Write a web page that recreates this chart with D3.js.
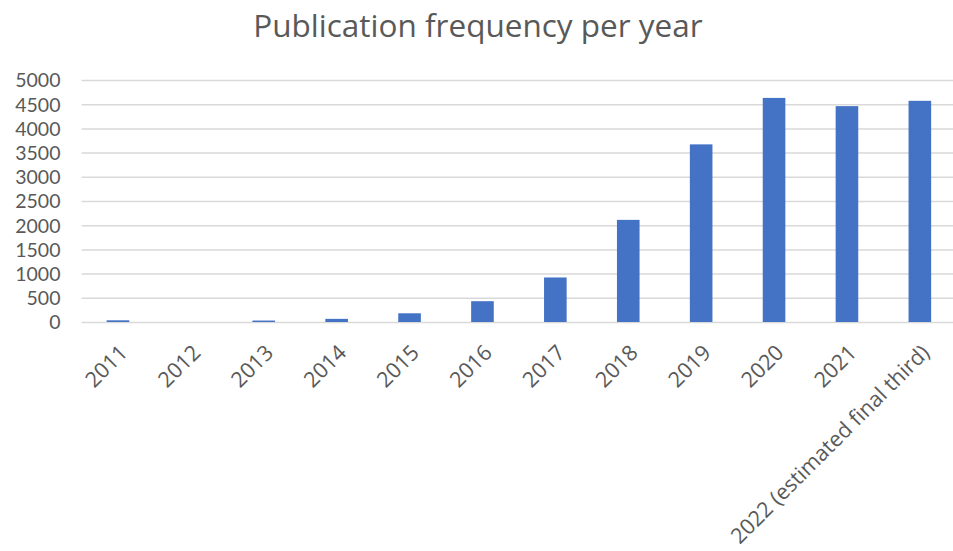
<!DOCTYPE html>
<html>
<head>
<meta charset="utf-8">
<script src="https://cdn.jsdelivr.net/npm/d3@7"></script>
<style>
  html, body { margin: 0; padding: 0; background: #fff; }
  svg { display: block; }
  text { font-family: "Open Sans", "Noto Sans", sans-serif; fill: #595959; }
</style>
</head>
<body>
<svg id="chart" width="953" height="551"></svg>
<script>
// Publication counts per year
const years = ["2011", "2012", "2013", "2014", "2015", "2016", "2017", "2018", "2019", "2020", "2021", "2022 (estimated final third)"];
const counts = [35, 0, 30, 65, 180, 430, 920, 2110, 3670, 4630, 4460, 4570];
const yTicks = [0, 500, 1000, 1500, 2000, 2500, 3000, 3500, 4000, 4500, 5000];
const title = "Publication frequency per year";

const svg = d3.select("#chart");
const W = 953, H = 551;
const plot = { left: 81.5, right: 956.3, top: 80, bottom: 322 };

const x = d3.scaleBand().domain(years).range([plot.left, plot.right]).paddingInner(0.69).paddingOuter(0.345);
const y = d3.scaleLinear().domain([0, 5000]).range([plot.bottom, plot.top]);

// Title
svg.append("text")
  .attr("x", 478).attr("y", 37)
  .attr("text-anchor", "middle")
  .style("font-size", "31.5px")
  .text(title);

// Horizontal gridlines and value labels
const yAxis = d3.axisLeft(y).tickValues(yTicks).tickFormat(d3.format("d"))
  .tickSize(-(W - plot.left)).tickPadding(21);
const gy = svg.append("g").attr("transform", `translate(${plot.left},0)`).call(yAxis);
gy.select(".domain").remove();
gy.selectAll(".tick line").attr("stroke", "#d9d9d9").attr("stroke-width", 1.5);
gy.selectAll(".tick text")
  .attr("fill", "#595959")
  .style("font-family", "Lato, sans-serif")
  .style("font-size", "19.5px")
  .attr("dy", "0.35em");

// Bars
svg.append("g").selectAll("rect")
  .data(counts.map((v, i) => ({ year: years[i], value: v })))
  .join("rect")
  .attr("x", d => x(d.year))
  .attr("width", x.bandwidth())
  .attr("y", d => y(d.value))
  .attr("height", d => y(0) - y(d.value))
  .attr("fill", "#4472c4");

// Category labels, rotated
const gx = svg.append("g").attr("transform", `translate(0,${plot.bottom})`)
  .call(d3.axisBottom(x).tickSize(0).tickPadding(0));
gx.select(".domain").remove();
gx.selectAll(".tick text")
  .attr("fill", "#595959")
  .style("font-size", "21.5px")
  .attr("text-anchor", "end")
  .attr("dy", null)
  .attr("y", 0)
  .attr("transform", "translate(11,32) rotate(-45)");
</script>
</body>
</html>
